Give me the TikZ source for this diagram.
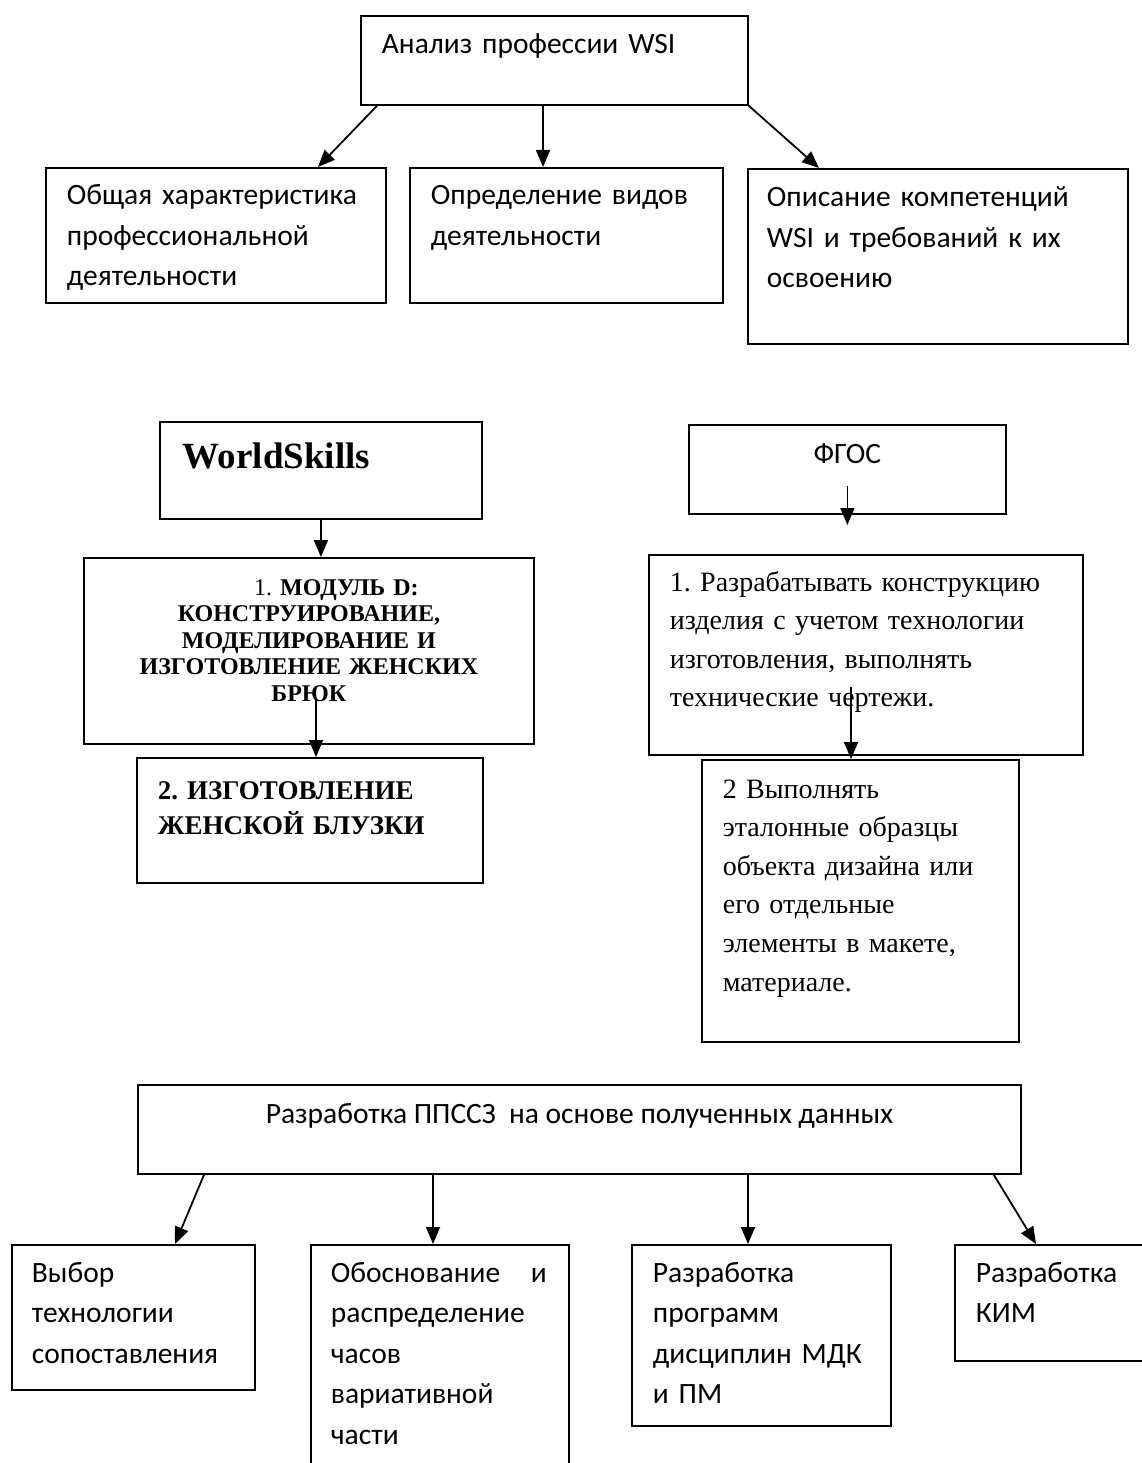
\documentclass[tikz,border=0pt]{standalone}
\usepackage{fontspec}
\setmainfont{Liberation Serif}
\newfontfamily\calfont{Carlito}
\usetikzlibrary{arrows.meta}
\frenchspacing
\tikzset{
  ->,
  >={Triangle[length=17pt,width=14pt]},
  box/.style={draw, rectangle, anchor=north west, inner sep=0pt},
  caltext/.style={font=\calfont\fontsize{29.5}{40.5}\selectfont, anchor=base west,
    inner sep=0pt, align=left, text width=340pt},
  sertext/.style={font=\fontsize{28}{38.6}\selectfont, anchor=base west,
    inner sep=0pt, align=left, text width=420pt}
}

\begin{document}
\begin{tikzpicture}[x=1pt, y=1pt, line width=1.8pt]
    \useasboundingbox (0,0) rectangle (1142,-1463);

    % analysis of the profession
    \node[box, minimum width=387pt, minimum height=89pt] (anal) at (360,-15) {};
    \node[caltext] at ([shift={(21,-39)}]anal.north west) {Анализ профессии WSI};
    \node[box, minimum width=340pt, minimum height=135pt] (general) at (45,-167) {};
    \node[caltext] at ([shift={(21,-38)}]general.north west)
      {Общая характеристика\\профессиональной\\деятельности};
    \node[box, minimum width=313pt, minimum height=135pt] (kinds) at (409,-167) {};
    \node[caltext] at ([shift={(21,-38)}]kinds.north west)
      {Определение видов\\деятельности};
    \node[box, minimum width=380pt, minimum height=175pt] (compet) at (747,-168) {};
    \node[caltext] at ([shift={(19,-39)}]compet.north west)
      {Описание компетенций\\WSI и требований к их\\освоению};
    \draw ([xshift=17pt]anal.south west) -- ([xshift=273pt]general.north west);
    \draw ([xshift=183pt]anal.south west) -- ([xshift=134pt]kinds.north west);
    \draw (anal.south east) -- ([xshift=72pt]compet.north west);

    % WorldSkills branch
    \node[box, minimum width=322pt, minimum height=97pt] (ws) at (159,-421) {};
    \node[anchor=base west, inner sep=0pt, font=\fontsize{37}{40}\selectfont\bfseries]
      at ([shift={(23,-47)}]ws.north west) {WorldSkills};
    \node[box, minimum width=450pt, minimum height=186pt] (modul) at (83,-557) {};
    \node[anchor=base, inner sep=0pt, align=center, text width=440pt,
      font=\fontsize{24}{26.5}\selectfont] at ([yshift=-38pt]modul.north)
      {\hspace*{55pt}1. \textbf{МОДУЛЬ D:}\\ \textbf{КОНСТРУИРОВАНИЕ,}\\
       \textbf{МОДЕЛИРОВАНИЕ И}\\ \textbf{ИЗГОТОВЛЕНИЕ ЖЕНСКИХ}\\ \textbf{БРЮК}};
    \node[box, minimum width=346pt, minimum height=125pt] (blouse) at (136,-757) {};
    \node[anchor=base west, inner sep=0pt, align=left, text width=320pt,
      font=\fontsize{27}{35}\selectfont\bfseries]
      at ([shift={(21,-42)}]blouse.north west) {2. ИЗГОТОВЛЕНИЕ\\ЖЕНСКОЙ БЛУЗКИ};
    \draw (ws.south) -- (ws.south |- modul.north);
    \coordinate (modtail) at (316,-698);
    \draw (modtail) -- (modtail |- blouse.north);

    % FGOS branch
    \node[box, minimum width=317pt, minimum height=89pt] (fgos) at (688,-424) {};
    \node[anchor=base, inner sep=0pt, font=\calfont\fontsize{29.5}{34}\selectfont]
      at ([yshift=-39pt]fgos.north) {ФГОС};
    \node[box, minimum width=434pt, minimum height=200pt] (design) at (648,-554) {};
    \node[sertext] at ([shift={(21,-37)}]design.north west)
      {1. Разрабатывать конструкцию\\изделия с учетом технологии\\изготовления, выполнять\\технические чертежи.};
    \node[box, minimum width=317pt, minimum height=282pt] (sample) at (701,-759) {};
    \node[sertext] at ([shift={(21,-39)}]sample.north west)
      {2 Выполнять\\эталонные образцы\\объекта дизайна или\\его отдельные\\элементы в макете,\\материале.};
    \draw ([yshift=29pt]fgos.south) -- ([yshift=29pt]fgos.south |- design.north);
    \coordinate (designtail) at (851,-687);
    \draw (designtail) -- (designtail |- sample.north);

    % program development
    \node[box, minimum width=883pt, minimum height=89pt] (plan) at (137,-1084) {};
    \node[anchor=base, inner sep=0pt, font=\calfont\fontsize{29.5}{34}\selectfont]
      at ([yshift=-39pt]plan.north) {Разработка ППССЗ\ \ на основе полученных данных};
    \node[box, minimum width=243pt, minimum height=145pt] (choice) at (11,-1244) {};
    \node[caltext] at ([shift={(20,-38)}]choice.north west)
      {Выбор\\технологии\\сопоставления};
    \node[box, minimum width=258pt, minimum height=260pt] (hours) at (310,-1244) {};
    \node[caltext, text width=216pt] at ([shift={(20,-38)}]hours.north west)
      {Обоснование\hfill и\\распределение\\часов\\вариативной\\части};
    \node[box, minimum width=259pt, minimum height=181pt] (progs) at (631,-1244) {};
    \node[caltext] at ([shift={(21,-38)}]progs.north west)
      {Разработка\\программ\\дисциплин МДК\\и ПМ};
    \node[box, minimum width=220pt, minimum height=116pt] (kim) at (954,-1244) {};
    \node[caltext] at ([shift={(21,-38)}]kim.north west) {Разработка\\КИМ};
    \draw ([xshift=67pt]plan.south west) -- ([xshift=164pt]choice.north west);
    \draw ([xshift=296pt]plan.south west) -- ([xshift=123pt]hours.north west);
    \draw ([xshift=611pt]plan.south west) -- ([xshift=117pt]progs.north west);
    \draw ([xshift=-28pt]plan.south east) -- ([xshift=82pt]kim.north west);
  \end{tikzpicture}
\end{document}
